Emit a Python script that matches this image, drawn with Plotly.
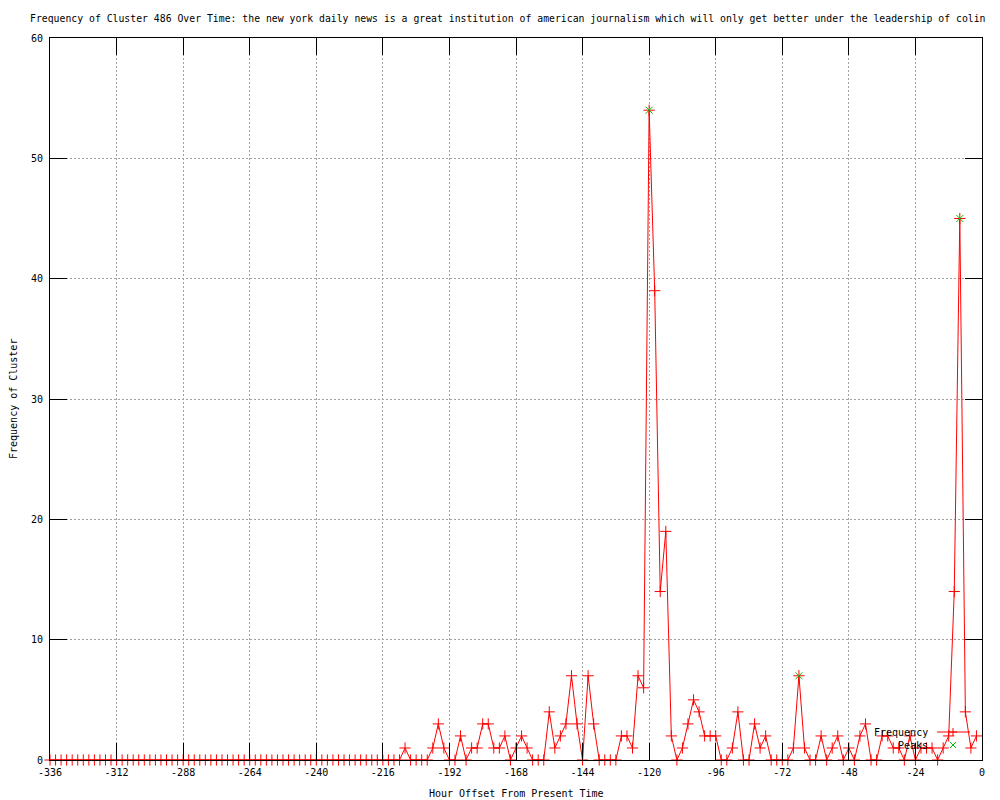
import plotly.graph_objects as go

# hour offsets, one sample every 2 hours
hours = list(range(-336, 0, 2))

frequency = [
    0, 0, 0, 0, 0, 0, 0, 0, 0, 0, 0, 0, 0, 0, 0, 0, 0, 0, 0, 0,   # -336 .. -298
    0, 0, 0, 0, 0, 0, 0, 0, 0, 0, 0, 0, 0, 0, 0, 0, 0, 0, 0, 0,   # -296 .. -258
    0, 0, 0, 0, 0, 0, 0, 0, 0, 0, 0, 0, 0, 0, 0, 0, 0, 0, 0, 0,   # -256 .. -218
    0, 0, 0, 0, 1, 0, 0, 0, 0, 1, 3, 1, 0, 0, 2, 0, 1, 1, 3, 3,   # -216 .. -178
    1, 1, 2, 0, 1, 2, 1, 0, 0, 0, 4, 1, 2, 3, 7, 3, 0, 7, 3, 0,   # -176 .. -138
    0, 0, 0, 2, 2, 1, 7, 6, 54, 39, 14, 19, 2, 0, 1, 3, 5, 4, 2, 2,  # -136 .. -98
    2, 0, 0, 1, 4, 0, 0, 3, 1, 2, 0, 0, 0, 0, 1, 7, 1, 0, 0, 2,   # -96 .. -58
    0, 1, 2, 0, 1, 0, 2, 3, 0, 0, 2, 2, 1, 1, 0, 2, 0, 1, 1, 1,   # -56 .. -18
    0, 1, 2, 14, 45, 4, 1, 2,                                     # -16 .. -2
]

peak_hours = [-120, -66, -8]
peak_values = [54, 7, 45]

x_ticks = [-336, -312, -288, -264, -240, -216, -192, -168, -144, -120, -96, -72, -48, -24, 0]
x_tick_labels = ["-336", "-312", "-288", "-264", "-240", "-216", "-192", "-168", "-144",
                 "-120", "-96", "-72", "-48", "-24", "0"]
y_ticks = [0, 10, 20, 30, 40, 50, 60]

titulo = ("Frequency of Cluster 486 Over Time: the new york daily news is a great institution "
          "of american journalism which will only get better under the leadership of colin")

FONTE = "DejaVu Sans Mono"
VERMELHO = "#ff0000"
VERDE = "#00c000"

fig = go.Figure()

fig.add_trace(go.Scatter(
    x=hours, y=frequency, mode="lines+markers", name="Frequency",
    line=dict(color=VERMELHO, width=1),
    marker=dict(symbol="cross-thin", size=8, line=dict(color=VERMELHO, width=1)),
    cliponaxis=False,
))
fig.add_trace(go.Scatter(
    x=peak_hours, y=peak_values, mode="markers", name="Peaks",
    marker=dict(symbol="x-thin", size=7, line=dict(color=VERDE, width=1)),
    cliponaxis=False,
))

# the page body adds 8px around the figure
OFF = 8
FW, FH = 1000 - OFF, 800 - OFF
# plot box in screen pixels: x 50..982, y 38..760
L, R, T, B = 50, 982, 38, 760
W, H = R - L, B - T

def px(x):
    return (x - L) / W

def py(y):
    return (B - y) / H

# title (left edge at screen x=28) and axis labels
fig.add_annotation(text=titulo, x=px(28), y=1, xref="paper", yref="paper", yshift=20,
                   showarrow=False, xanchor="left", yanchor="middle",
                   font=dict(family=FONTE, size=9.8, color="black"))
fig.add_annotation(text="Hour Offset From Present Time", x=0.5, y=0, xref="paper", yref="paper",
                   yshift=-33, showarrow=False, yanchor="middle",
                   font=dict(family=FONTE, size=10, color="black"))
fig.add_annotation(text="Frequency of Cluster", x=0, y=0.5, xref="paper", yref="paper",
                   xshift=-37, textangle=-90, showarrow=False, xanchor="center",
                   font=dict(family=FONTE, size=10, color="black"))

# legend, gnuplot style (text right aligned, sample to the right)
fig.add_annotation(text="Frequency", x=px(930), y=py(732), xref="paper", yref="paper",
                   showarrow=False, xanchor="right", yanchor="middle",
                   font=dict(family=FONTE, size=10, color="black"))
fig.add_annotation(text="Peaks", x=px(930), y=py(745), xref="paper", yref="paper",
                   showarrow=False, xanchor="right", yanchor="middle",
                   font=dict(family=FONTE, size=10, color="black"))
fig.add_shape(type="line", xref="paper", yref="paper", x0=px(937), x1=px(970),
              y0=py(732), y1=py(732), line=dict(color=VERMELHO, width=1))
for dx0, dy0, dx1, dy1, cor, yy in [(-4, 0, 4, 0, VERMELHO, 732), (0, -4, 0, 4, VERMELHO, 732),
                                    (-3, -3, 3, 3, VERDE, 745), (-3, 3, 3, -3, VERDE, 745)]:
    fig.add_shape(type="line", xref="paper", yref="paper",
                  xsizemode="pixel", ysizemode="pixel",
                  xanchor=px(953), yanchor=py(yy),
                  x0=dx0, x1=dx1, y0=dy0, y1=dy1, line=dict(color=cor, width=1))

eixo = dict(showline=True, linecolor="black", linewidth=1, mirror="ticks",
            ticks="inside", ticklen=17, tickcolor="black", tickwidth=1,
            showgrid=True, gridcolor="#a0a0a0", griddash="2px,2px", gridwidth=1,
            zeroline=False, tickfont=dict(family=FONTE, size=10, color="black"))

fig.update_layout(
    width=FW, height=FH, autosize=False,
    plot_bgcolor="white", paper_bgcolor="white",
    showlegend=False,
    margin=dict(l=L - OFF, r=FW - (R - OFF), t=T - OFF, b=FH - (B - OFF), pad=0),
    xaxis=dict(eixo, range=[-336, 0], tickvals=x_ticks, ticktext=x_tick_labels,
               ticklabelstandoff=3),
    yaxis=dict(eixo, range=[0, 60], tickvals=y_ticks, ticktext=[str(v) for v in y_ticks],
               ticklabelstandoff=4),
)

fig.write_html("out.html")
